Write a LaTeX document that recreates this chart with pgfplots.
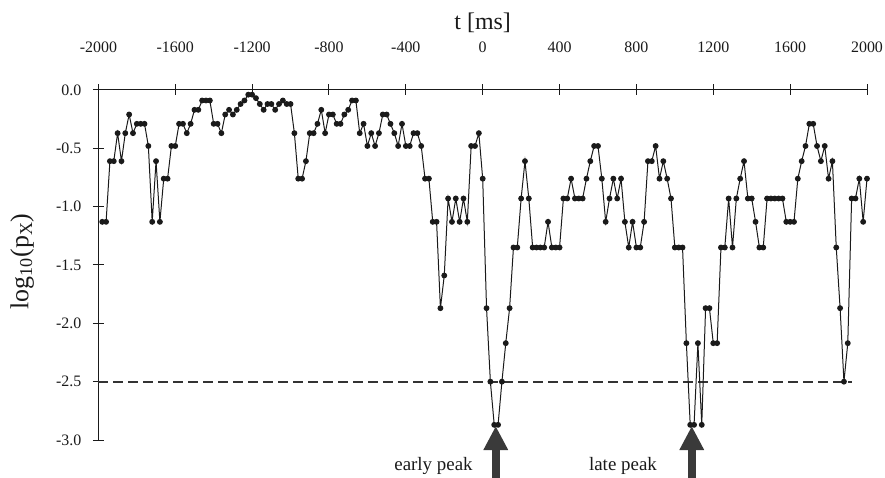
\documentclass[border=0pt]{standalone}
\usepackage{fontspec}
\setmainfont{Liberation Serif}
\usepackage{pgfplots}
\pgfplotsset{compat=1.18}
\usetikzlibrary{arrows.meta}
\definecolor{ink}{HTML}{1A1A1A}
\definecolor{arrowgray}{HTML}{3A3A3A}

\pgfplotstableread{
t v
-1980 -1.13
-1960 -1.13
-1940 -0.61
-1920 -0.61
-1900 -0.37
-1880 -0.61
-1860 -0.37
-1840 -0.21
-1820 -0.37
-1800 -0.29
-1780 -0.29
-1760 -0.29
-1740 -0.48
-1720 -1.13
-1700 -0.61
-1680 -1.13
-1660 -0.76
-1640 -0.76
-1620 -0.48
-1600 -0.48
-1580 -0.29
-1560 -0.29
-1540 -0.37
-1520 -0.29
-1500 -0.17
-1480 -0.17
-1460 -0.09
-1440 -0.09
-1420 -0.09
-1400 -0.29
-1380 -0.29
-1360 -0.37
-1340 -0.21
-1320 -0.17
-1300 -0.21
-1280 -0.17
-1260 -0.12
-1240 -0.09
-1220 -0.04
-1200 -0.04
-1180 -0.07
-1160 -0.12
-1140 -0.17
-1120 -0.12
-1100 -0.12
-1080 -0.17
-1060 -0.12
-1040 -0.09
-1020 -0.12
-1000 -0.12
-980 -0.37
-960 -0.76
-940 -0.76
-920 -0.61
-900 -0.37
-880 -0.37
-860 -0.29
-840 -0.17
-820 -0.37
-800 -0.21
-780 -0.21
-760 -0.29
-740 -0.29
-720 -0.21
-700 -0.17
-680 -0.09
-660 -0.09
-640 -0.37
-620 -0.29
-600 -0.48
-580 -0.37
-560 -0.48
-540 -0.37
-520 -0.21
-500 -0.21
-480 -0.29
-460 -0.37
-440 -0.48
-420 -0.29
-400 -0.48
-380 -0.48
-360 -0.37
-340 -0.37
-320 -0.48
-300 -0.76
-280 -0.76
-260 -1.13
-240 -1.13
-220 -1.87
-200 -1.59
-180 -0.93
-160 -1.13
-140 -0.93
-120 -1.13
-100 -0.93
-80 -1.13
-60 -0.48
-40 -0.48
-20 -0.37
0 -0.76
20 -1.87
40 -2.50
60 -2.87
80 -2.87
100 -2.50
120 -2.17
140 -1.87
160 -1.35
180 -1.35
200 -0.93
220 -0.61
240 -0.93
260 -1.35
280 -1.35
300 -1.35
320 -1.35
340 -1.13
360 -1.35
380 -1.35
400 -1.35
420 -0.93
440 -0.93
460 -0.76
480 -0.93
500 -0.93
520 -0.93
540 -0.76
560 -0.61
580 -0.48
600 -0.48
620 -0.76
640 -1.13
660 -0.93
680 -0.76
700 -0.93
720 -0.76
740 -1.13
760 -1.35
780 -1.13
800 -1.35
820 -1.35
840 -1.13
860 -0.61
880 -0.61
900 -0.48
920 -0.76
940 -0.61
960 -0.76
980 -0.93
1000 -1.35
1020 -1.35
1040 -1.35
1060 -2.17
1080 -2.87
1100 -2.87
1120 -2.17
1140 -2.87
1160 -1.87
1180 -1.87
1200 -2.17
1220 -2.17
1240 -1.35
1260 -1.35
1280 -0.93
1300 -1.35
1320 -0.93
1340 -0.76
1360 -0.61
1380 -0.93
1400 -0.93
1420 -1.13
1440 -1.35
1460 -1.35
1480 -0.93
1500 -0.93
1520 -0.93
1540 -0.93
1560 -0.93
1580 -1.13
1600 -1.13
1620 -1.13
1640 -0.76
1660 -0.61
1680 -0.48
1700 -0.29
1720 -0.29
1740 -0.48
1760 -0.61
1780 -0.48
1800 -0.76
1820 -0.61
1840 -1.35
1860 -1.87
1880 -2.50
1900 -2.17
1920 -0.93
1940 -0.93
1960 -0.76
1980 -1.13
2000 -0.76
}\logp

\begin{document}
\begin{tikzpicture}
\begin{axis}[
  scale only axis, width=768.6bp, height=350bp,
  xmin=-2000, xmax=2000, ymin=-3, ymax=0,
  axis x line*=top, axis y line*=left,
  axis line style={ink, line width=1bp},
  tick style={ink, line width=1bp},
  tick align=center, major tick length=11bp,
  xtick={-2000,-1600,...,2000},
  xticklabels={-2000,-1600,-1200,-800,-400,0,400,800,1200,1600,2000},
  ytick={0,-0.5,...,-3},
  yticklabels={0.0,-0.5,-1.0,-1.5,-2.0,-2.5,-3.0},
  ticklabel style={font=\fontsize{16}{18}\selectfont, text=ink},
  xticklabel style={anchor=base, yshift=32bp},
  yticklabel style={anchor=east, xshift=-8bp},
  xlabel={t [ms]},
  xlabel style={at={(axis description cs:0.5,1)}, anchor=base, yshift=60bp,
    font=\fontsize{24}{28}\selectfont, text=ink},
  ylabel={log\textsubscript{10}(p\textsubscript{X})},
  ylabel style={at={(axis description cs:-0.099,0.51)}, anchor=center,
    font=\fontsize{26}{30}\selectfont, text=ink},
  clip=false,
]
\addplot[dash pattern=on 10bp off 5bp, line width=1.8bp, color=black!80]
  coordinates {(-2000,-2.5) (1920,-2.5)};
\addplot[ink, line width=1bp, mark=*, mark size=2.4bp, mark options={solid, fill=ink}]
  table[x=t, y=v] {\logp};
\draw[arrowgray, line width=8bp, -{Triangle[width=23bp, length=24bp]}]
  (axis cs:68,-3.33) -- (axis cs:68,-2.88);
\draw[arrowgray, line width=8bp, -{Triangle[width=23bp, length=24bp]}]
  (axis cs:1088,-3.33) -- (axis cs:1088,-2.88);
\node[anchor=base, font=\fontsize{19}{23}\selectfont, text=ink] at (axis cs:-256,-3.26) {early peak};
\node[anchor=base, font=\fontsize{19}{23}\selectfont, text=ink] at (axis cs:730,-3.26) {late peak};
\end{axis}
\pgfresetboundingbox
\path[use as bounding box] ([xshift=-98.4bp,yshift=-38bp]current axis.south west)
  rectangle ([xshift=18bp,yshift=90bp]current axis.north east);
\end{tikzpicture}
\end{document}
